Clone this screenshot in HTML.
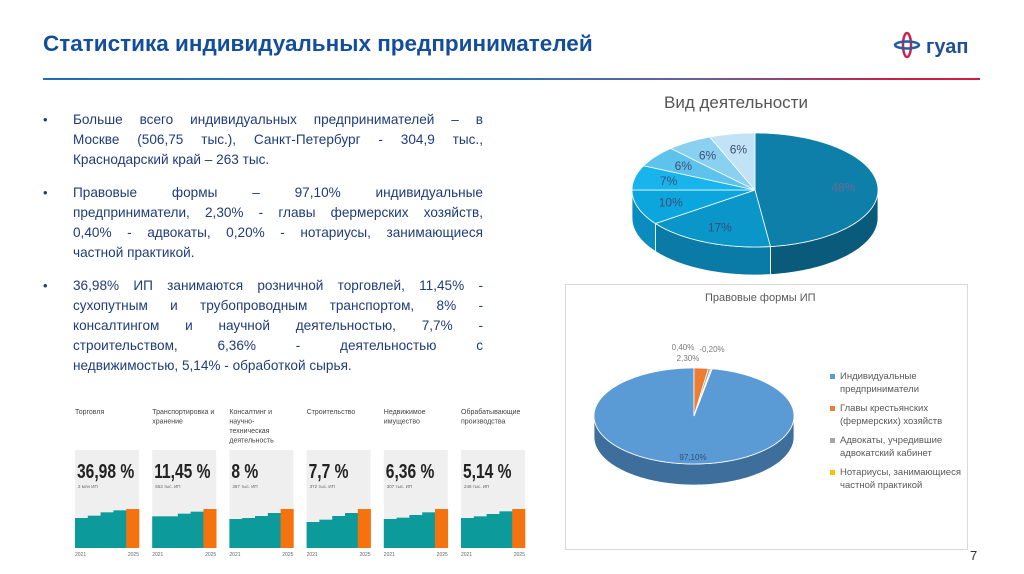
<!DOCTYPE html>
<html><head><meta charset="utf-8"><style>
body{margin:0;width:1024px;height:574px;background:#fff;overflow:hidden;position:relative;font-family:"Liberation Sans",sans-serif}
.t{position:absolute}
.ln{position:absolute;left:73px;width:410px;font-size:13.6px;color:#1f3c7a;text-align:justify;text-align-last:justify;white-space:nowrap;line-height:20px}
.ln.last{text-align-last:left}
.bl{position:absolute;left:43px;font-size:13px;color:#1f3c7a}
</style></head><body>
<div class="t" style="left:43px;top:31px;font-size:22.5px;font-weight:bold;color:#134e9a">Статистика индивидуальных предпринимателей</div>
<div class="t" style="left:43px;top:78px;width:937px;height:2px;background:linear-gradient(90deg,#1f6fb0 0%,#2e74b0 50%,#6a5f9a 70%,#c8204a 90%,#d41c44 100%)"></div>
<div class="t" style="left:893px;top:30px;width:95px;height:30px">
<svg width="95" height="30"><ellipse cx="14" cy="15" rx="4" ry="12" fill="none" stroke="#d0204a" stroke-width="2.5"/><ellipse cx="14" cy="15" rx="12" ry="3.5" fill="none" stroke="#1f5fa8" stroke-width="2.5"/>
<text x="33" y="23" font-family="Liberation Sans,sans-serif" font-weight="bold" font-size="20" fill="#1f4f95">гуап</text></svg></div>

<div class="bl" style="top:112px">•</div>
<div class="ln" style="top:110px">Больше всего индивидуальных предпринимателей – в</div>
<div class="ln" style="top:130px">Москве (506,75 тыс.), Санкт-Петербург - 304,9 тыс.,</div>
<div class="ln last" style="top:150px">Краснодарский край – 263 тыс.</div>
<div class="bl" style="top:185px">•</div>
<div class="ln" style="top:183px">Правовые формы – 97,10% индивидуальные</div>
<div class="ln" style="top:203px">предприниматели, 2,30% - главы фермерских хозяйств,</div>
<div class="ln" style="top:223px">0,40% - адвокаты, 0,20% - нотариусы, занимающиеся</div>
<div class="ln last" style="top:243px">частной практикой.</div>
<div class="bl" style="top:278px">•</div>
<div class="ln" style="top:276px">36,98% ИП занимаются розничной торговлей, 11,45% -</div>
<div class="ln" style="top:296px">сухопутным и трубопроводным транспортом, 8% -</div>
<div class="ln" style="top:316px">консалтингом и научной деятельностью, 7,7% -</div>
<div class="ln" style="top:336px">строительством, 6,36% - деятельностью с</div>
<div class="ln last" style="top:356px">недвижимостью, 5,14% - обработкой сырья.</div>

<div class="t" style="left:664px;top:93px;font-size:17px;color:#555">Вид деятельности</div>
<div class="t" style="left:565px;top:284px;width:401px;height:264px;border:1px solid #d9d9d9"></div>
<div class="t" style="left:705px;top:292px;font-size:11px;color:#595959">Правовые формы ИП</div>
<div class="t" style="left:830px;top:370px;font-size:9.5px;color:#595959;line-height:13px">
<div style="position:relative;padding-left:10px;margin-bottom:6px"><span style="position:absolute;left:0;top:4px;width:5px;height:5px;background:#5b9bd5"></span>Индивидуальные<br>предприниматели</div>
<div style="position:relative;padding-left:10px;margin-bottom:6px"><span style="position:absolute;left:0;top:4px;width:5px;height:5px;background:#ed7d31"></span>Главы крестьянских<br>(фермерских) хозяйств</div>
<div style="position:relative;padding-left:10px;margin-bottom:6px"><span style="position:absolute;left:0;top:4px;width:5px;height:5px;background:#a5a5a5"></span>Адвокаты, учредившие<br>адвокатский кабинет</div>
<div style="position:relative;padding-left:10px"><span style="position:absolute;left:0;top:4px;width:5px;height:5px;background:#ffc000"></span>Нотариусы, занимающиеся<br>частной практикой</div>
</div>
<div class="t" style="left:970px;top:548px;font-size:13px;color:#333">7</div>

<svg id="sv" width="1024" height="574" style="position:absolute;left:0;top:0"></svg>
<script>
const pie1Values=[48,17,10,7,6,6,6];
const pie1Labels=["48%","17%","10%","7%","6%","6%","6%"];
const pie2Values=[97.1,2.3,0.4,0.2];
const pie2Labels=["97,10%","2,30%","0,40%","0,20%"];
const panelTitles=[["Торговля"],["Транспортировка и","хранение"],["Консалтинг и","научно-","техническая","деятельность"],["Строительство"],["Недвижимое","имущество"],["Обрабатывающие","производства"]];
const panelPercents=["36,98 %","11,45 %","8 %","7,7 %","6,36 %","5,14 %"];
const panelSub=["2 млн ИП","553 тыс. ИП","387 тыс. ИП","372 тыс. ИП","307 тыс. ИП","248 тыс. ИП"];
const panelBars=[[90,97,107,113,117],[95,95,103,109,117],[87,90,96,105,117],[78,85,96,105,117],[87,91,99,107,117],[90,95,102,110,117]];
const yearLabels=["2021","2025"];

const NS="http://www.w3.org/2000/svg",sv=document.getElementById('sv');
function el(t,a,p){const e=document.createElementNS(NS,t);for(const k in a)e.setAttribute(k,a[k]);(p||sv).appendChild(e);return e;}
function pt(cx,cy,rx,ry,t,dy){return [cx+rx*Math.sin(t),cy-ry*Math.cos(t)+(dy||0)];}
function arcPts(cx,cy,rx,ry,a,b,dy){const n=Math.max(2,Math.ceil((b-a)*40));const r=[];for(let i=0;i<=n;i++)r.push(pt(cx,cy,rx,ry,a+(b-a)*i/n,dy));return r;}
function pie(cfg){
 const tot=cfg.values.reduce((s,v)=>s+v,0);let a=cfg.start;const sl=[];
 cfg.values.forEach((v,i)=>{const b=a+v/tot*2*Math.PI;sl.push([a,b]);a=b;});
 sl.forEach(([a,b],i)=>{for(let k=-1;k<=1;k++){const lo=Math.max(a,Math.PI/2+2*Math.PI*k),hi=Math.min(b,1.5*Math.PI+2*Math.PI*k);if(hi>lo){
  const top=arcPts(cfg.cx,cfg.cy,cfg.rx,cfg.ry,lo,hi,0),bot=arcPts(cfg.cx,cfg.cy,cfg.rx,cfg.ry,lo,hi,cfg.depth).reverse();
  const p=el('path',{d:'M'+top.concat(bot).map(q=>q.join(',')).join('L')+'Z',fill:cfg.side[i],stroke:'#fff','stroke-width':cfg.sw});
  
  }}});
 sl.forEach(([a,b],i)=>{const pts=arcPts(cfg.cx,cfg.cy,cfg.rx,cfg.ry,a,b,0);
  const p=el('path',{d:'M'+cfg.cx+','+cfg.cy+'L'+pts.map(q=>q.join(',')).join('L')+'Z',fill:cfg.colors[i],stroke:'#fff','stroke-width':cfg.sw});
  
  });
 return sl;
}
const s1=pie({cx:755,cy:190,rx:123,ry:57,depth:28,start:0,values:pie1Values,sw:0.8,
 colors:['#0e7fa8','#0a96c8','#0aa6dd','#19b4ec','#5ec3ec','#8ad0f0','#c2e3f5'],
 side:['#0a5a7c','#0a7aa6','#0a8cc0','#1599cc','#4aa8d0','#70b8dc','#a0cce6']});
s1.forEach(([a,b],i)=>{const m=(a+b)/2,r=0.72;const [x,y]=pt(755,190,123*r,57*r,m);
 const t=el('text',{x:x,y:y+4,'text-anchor':'middle','font-size':12,fill:i==0?'#6a6a9a':'#3d4f78','font-family':'Liberation Sans,sans-serif'});t.textContent=pie1Labels[i];
 
 });
const tot2=pie2Values.reduce((s,v)=>s+v,0);
const s2=pie({cx:694,cy:416,rx:100,ry:48,depth:21,start:-pie2Values[0]/tot2*2*Math.PI,values:pie2Values,sw:0.8,
 colors:['#5b9bd5','#ed7d31','#a5a5a5','#ffc000'],side:['#3d6e9c','#b05a20','#7a7a7a','#c09000']});
const lp=[[693,460],[688,361],[683,350],[712,352]];
pie2Labels.forEach((l,i)=>{const t=el('text',{x:lp[i][0],y:lp[i][1],'text-anchor':'middle','font-size':8,fill:i==0?'#2e4e7a':'#7a7a7a','font-family':'Liberation Sans,sans-serif'});t.textContent=(i==3?'-':'')+l;
 
 });

const maxV=120,plotH=40,base=548;
function yS(v){return base-v/maxV*plotH;}
panelBars.forEach((bars,i)=>{const x0=75+i*77.2,w=64;
 const g=el('g',{});
 panelTitles[i].forEach((ln,j)=>{const t=el('text',{x:x0,y:414+j*9.5,'font-size':7,fill:'#444','font-family':'Liberation Sans,sans-serif'},g);t.textContent=ln;});
 el('rect',{x:x0,y:450,width:w,height:base-450,fill:'#efefef'},g);
 const t=el('text',{x:0,y:478,'font-size':20,'font-weight':'bold',fill:'#222','font-family':'Liberation Sans Narrow,Liberation Sans,sans-serif',transform:'translate('+(x0+2)+',0) scale(0.78,1)'},g);t.textContent=panelPercents[i];
 const s=el('text',{x:x0+3,y:488,'font-size':4.5,fill:'#666','font-family':'Liberation Sans,sans-serif'},g);s.textContent=panelSub[i];
 const bw=w/bars.length;
 bars.forEach((v,k)=>{const r=el('rect',{x:x0+k*bw,y:yS(v),width:bw+0.3,height:base-yS(v),fill:k==bars.length-1?'#f5730f':'#0c9a9a'},g);
  
  });
 yearLabels.forEach((y,k)=>{const tt=el('text',{x:k?x0+w:x0,y:556,'text-anchor':k?'end':'start','font-size':5,fill:'#666','font-family':'Liberation Sans,sans-serif'},g);tt.textContent=y;});
});
</script>
</body></html>
